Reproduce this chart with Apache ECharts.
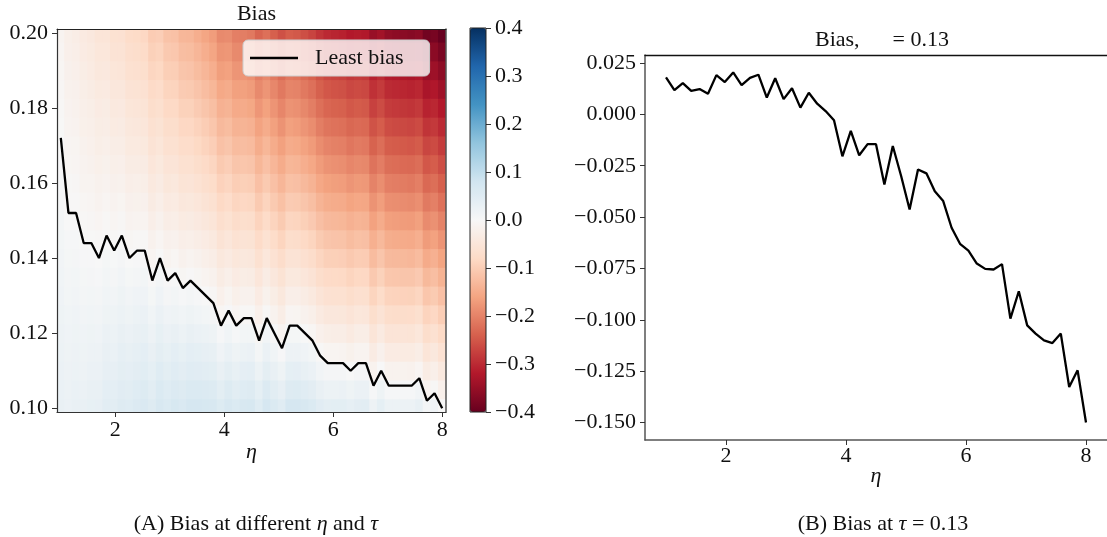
<!DOCTYPE html>
<html><head><meta charset="utf-8">
<script src="https://cdn.jsdelivr.net/npm/echarts@6/dist/echarts.min.js"></script>
<style>html,body{margin:0;padding:0;background:#fff}#c{width:1107px;height:537px}</style>
</head><body><div id="c"></div>
<script>
// ---- data ----
const etaValues = [1.00,1.14,1.28,1.42,1.56,1.70,1.84,1.98,2.12,2.26,2.40,2.54,2.68,2.82,2.96,3.10,3.24,3.38,3.52,3.66,3.80,3.94,4.08,4.22,4.36,4.50,4.64,4.78,4.92,5.06,5.20,5.34,5.48,5.62,5.76,5.90,6.04,6.18,6.32,6.46,6.60,6.74,6.88,7.02,7.16,7.30,7.44,7.58,7.72,7.86,8.00];
const tauRows = [0.100,0.105,0.110,0.115,0.120,0.125,0.130,0.135,0.140,0.145,0.150,0.155,0.160,0.165,0.170,0.175,0.180,0.185,0.190,0.195,0.200];
// bias per eta column, one value per tau row (bottom to top)
const biasColumns = [
[.029,.027,.025,.023,.021,.019,.017,.015,.013,.011,.009,.007,.005,.003,.001,-.001,-.003,-.005,-.007,-.009,-.011],
[.026,.024,.021,.019,.016,.014,.011,.009,.006,.004,.001,-.002,-.004,-.007,-.009,-.012,-.014,-.017,-.019,-.022,-.024],
[.030,.027,.024,.022,.019,.016,.013,.010,.007,.004,.001,-.002,-.005,-.008,-.010,-.013,-.016,-.019,-.022,-.025,-.028],
[.029,.026,.022,.019,.016,.013,.009,.006,.003,-.001,-.004,-.007,-.011,-.014,-.017,-.021,-.024,-.027,-.030,-.034,-.037],
[.033,.029,.026,.022,.018,.014,.011,.007,.003,-.001,-.005,-.008,-.012,-.016,-.020,-.023,-.027,-.031,-.035,-.038,-.042],
[.034,.030,.026,.021,.017,.013,.009,.004,.000,-.004,-.009,-.013,-.017,-.021,-.026,-.030,-.034,-.038,-.043,-.047,-.051],
[.044,.039,.034,.030,.025,.020,.015,.011,.006,.001,-.004,-.009,-.013,-.018,-.023,-.028,-.032,-.037,-.042,-.047,-.051],
[.044,.039,.034,.028,.023,.018,.013,.007,.002,-.003,-.008,-.014,-.019,-.024,-.029,-.035,-.040,-.045,-.050,-.056,-.061],
[.053,.047,.041,.036,.030,.024,.018,.013,.007,.001,-.005,-.010,-.016,-.022,-.028,-.033,-.039,-.045,-.051,-.056,-.062],
[.050,.044,.038,.031,.025,.019,.013,.006,.000,-.006,-.013,-.019,-.025,-.031,-.038,-.044,-.050,-.056,-.063,-.069,-.075],
[.057,.050,.043,.036,.030,.023,.016,.009,.003,-.004,-.011,-.018,-.024,-.031,-.038,-.045,-.051,-.058,-.065,-.072,-.078],
[.061,.054,.046,.039,.032,.025,.017,.010,.003,-.004,-.012,-.019,-.026,-.033,-.041,-.048,-.055,-.062,-.070,-.077,-.084],
[.053,.045,.037,.030,.022,.014,.006,-.002,-.009,-.017,-.025,-.033,-.040,-.048,-.056,-.064,-.071,-.079,-.087,-.095,-.102],
[.066,.058,.050,.041,.033,.025,.017,.008,.000,-.008,-.017,-.025,-.033,-.041,-.050,-.058,-.066,-.074,-.083,-.091,-.099],
[.060,.051,.042,.033,.025,.016,.007,-.002,-.011,-.019,-.028,-.037,-.046,-.054,-.063,-.072,-.081,-.089,-.098,-.107,-.116],
[.067,.057,.048,.039,.030,.020,.011,.002,-.007,-.017,-.026,-.035,-.044,-.054,-.063,-.072,-.081,-.091,-.100,-.109,-.118],
[.062,.053,.043,.033,.023,.014,.004,-.006,-.016,-.025,-.035,-.045,-.055,-.064,-.074,-.084,-.094,-.103,-.113,-.123,-.133],
[.070,.059,.049,.039,.029,.018,.008,-.002,-.012,-.023,-.033,-.043,-.053,-.064,-.074,-.084,-.094,-.105,-.115,-.125,-.135],
[.069,.058,.047,.037,.026,.015,.004,-.006,-.017,-.028,-.039,-.049,-.060,-.071,-.082,-.092,-.103,-.114,-.125,-.135,-.146],
[.068,.056,.045,.034,.023,.011,.000,-.011,-.023,-.034,-.045,-.056,-.068,-.079,-.090,-.101,-.113,-.124,-.135,-.146,-.158],
[.066,.054,.042,.031,.019,.007,-.005,-.017,-.028,-.040,-.052,-.064,-.075,-.087,-.099,-.111,-.122,-.134,-.146,-.158,-.169],
[.054,.042,.029,.017,.005,-.007,-.020,-.032,-.044,-.056,-.069,-.081,-.093,-.105,-.118,-.130,-.142,-.154,-.167,-.179,-.191],
[.066,.054,.041,.028,.015,.003,-.010,-.023,-.036,-.048,-.061,-.074,-.087,-.099,-.112,-.125,-.138,-.150,-.163,-.176,-.189],
[.058,.045,.031,.018,.005,-.008,-.021,-.034,-.047,-.060,-.073,-.087,-.100,-.113,-.126,-.139,-.152,-.165,-.178,-.191,-.204],
[.065,.051,.038,.024,.011,-.003,-.016,-.030,-.043,-.057,-.070,-.084,-.097,-.111,-.124,-.138,-.151,-.165,-.178,-.192,-.205],
[.067,.053,.039,.025,.011,-.003,-.017,-.031,-.045,-.058,-.072,-.086,-.100,-.114,-.128,-.142,-.156,-.170,-.184,-.197,-.211],
[.051,.037,.023,.009,-.006,-.020,-.034,-.048,-.063,-.077,-.091,-.105,-.120,-.134,-.148,-.162,-.177,-.191,-.205,-.219,-.234],
[.070,.056,.041,.026,.012,-.003,-.018,-.032,-.047,-.061,-.076,-.091,-.105,-.120,-.134,-.149,-.164,-.178,-.193,-.207,-.222],
[.060,.045,.030,.015,.000,-.015,-.030,-.045,-.060,-.075,-.090,-.105,-.120,-.135,-.150,-.165,-.180,-.195,-.210,-.225,-.240],
[.049,.034,.018,.003,-.012,-.028,-.043,-.058,-.073,-.089,-.104,-.119,-.135,-.150,-.165,-.181,-.196,-.211,-.226,-.242,-.257],
[.069,.053,.037,.022,.006,-.009,-.025,-.041,-.056,-.072,-.087,-.103,-.119,-.134,-.150,-.165,-.181,-.197,-.212,-.228,-.243],
[.070,.054,.038,.022,.006,-.010,-.025,-.041,-.057,-.073,-.089,-.105,-.121,-.137,-.153,-.169,-.184,-.200,-.216,-.232,-.248],
[.065,.049,.032,.016,.000,-.016,-.032,-.049,-.065,-.081,-.097,-.113,-.130,-.146,-.162,-.178,-.194,-.211,-.227,-.243,-.259],
[.059,.043,.026,.010,-.007,-.023,-.040,-.056,-.073,-.089,-.106,-.122,-.139,-.155,-.172,-.188,-.205,-.221,-.238,-.254,-.271],
[.047,.030,.013,-.003,-.020,-.037,-.054,-.071,-.087,-.104,-.121,-.138,-.155,-.171,-.188,-.205,-.222,-.239,-.255,-.272,-.289],
[.041,.024,.007,-.010,-.027,-.045,-.062,-.079,-.096,-.113,-.130,-.147,-.164,-.181,-.198,-.216,-.233,-.250,-.267,-.284,-.301],
[.042,.024,.007,-.010,-.028,-.045,-.063,-.080,-.097,-.115,-.132,-.150,-.167,-.184,-.202,-.219,-.237,-.254,-.271,-.289,-.306],
[.042,.025,.007,-.011,-.028,-.046,-.063,-.081,-.099,-.116,-.134,-.151,-.169,-.187,-.204,-.222,-.239,-.257,-.275,-.292,-.310],
[.036,.018,.000,-.018,-.036,-.053,-.071,-.089,-.107,-.125,-.142,-.160,-.178,-.196,-.214,-.231,-.249,-.267,-.285,-.303,-.320],
[.043,.025,.007,-.011,-.029,-.047,-.065,-.083,-.101,-.119,-.137,-.155,-.173,-.191,-.209,-.227,-.245,-.263,-.281,-.299,-.317],
[.044,.026,.007,-.011,-.029,-.048,-.066,-.084,-.102,-.121,-.139,-.157,-.175,-.194,-.212,-.230,-.248,-.267,-.285,-.303,-.321],
[.022,.004,-.015,-.033,-.052,-.070,-.089,-.107,-.126,-.144,-.163,-.181,-.200,-.218,-.237,-.255,-.274,-.292,-.311,-.329,-.348],
[.037,.019,.000,-.019,-.037,-.056,-.075,-.094,-.112,-.131,-.150,-.168,-.187,-.206,-.224,-.243,-.262,-.281,-.299,-.318,-.337],
[.023,.004,-.015,-.034,-.053,-.072,-.091,-.110,-.129,-.147,-.166,-.185,-.204,-.223,-.242,-.261,-.280,-.299,-.318,-.336,-.355],
[.023,.004,-.015,-.034,-.054,-.073,-.092,-.111,-.130,-.149,-.168,-.187,-.206,-.225,-.245,-.264,-.283,-.302,-.321,-.340,-.359],
[.023,.004,-.015,-.035,-.054,-.073,-.093,-.112,-.131,-.151,-.170,-.189,-.208,-.228,-.247,-.266,-.286,-.305,-.324,-.344,-.363],
[.023,.004,-.016,-.035,-.055,-.074,-.094,-.113,-.133,-.152,-.172,-.191,-.211,-.230,-.250,-.269,-.289,-.308,-.328,-.347,-.367],
[.031,.012,-.008,-.028,-.047,-.067,-.087,-.106,-.126,-.145,-.165,-.185,-.204,-.224,-.244,-.263,-.283,-.303,-.322,-.342,-.362],
[.008,-.012,-.032,-.052,-.071,-.091,-.111,-.131,-.151,-.170,-.190,-.210,-.230,-.250,-.269,-.289,-.309,-.329,-.349,-.368,-.388],
[.016,-.004,-.024,-.044,-.064,-.084,-.104,-.123,-.143,-.163,-.183,-.203,-.223,-.243,-.263,-.283,-.303,-.322,-.342,-.362,-.382],
[.000,-.020,-.040,-.060,-.080,-.100,-.120,-.140,-.160,-.180,-.200,-.220,-.240,-.260,-.280,-.300,-.320,-.340,-.360,-.380,-.400]
];
const leastBiasTau = [0.172,0.152,0.152,0.144,0.144,0.140,0.146,0.142,0.146,0.140,0.142,0.142,0.134,0.140,0.134,0.136,0.132,0.134,0.132,0.130,0.128,0.122,0.126,0.122,0.124,0.124,0.118,0.124,0.120,0.116,0.122,0.122,0.120,0.118,0.114,0.112,0.112,0.112,0.110,0.112,0.112,0.106,0.110,0.106,0.106,0.106,0.106,0.108,0.102,0.104,0.100];
const biasAtTau013 = [0.0180,0.0118,0.0152,0.0114,0.0123,0.0100,0.0191,0.0157,0.0204,0.0142,0.0178,0.0193,0.0082,0.0176,0.0074,0.0127,0.0033,0.0105,0.0052,0.0016,-0.0029,-0.0204,-0.0080,-0.0199,-0.0145,-0.0145,-0.0341,-0.0154,-0.0301,-0.0463,-0.0268,-0.0287,-0.0374,-0.0422,-0.0552,-0.0630,-0.0663,-0.0726,-0.0752,-0.0755,-0.0729,-0.0994,-0.0861,-0.1027,-0.1067,-0.1100,-0.1113,-0.1067,-0.1327,-0.1246,-0.1500];
const etaTicks = [2,4,6,8];
const tauTicks = [0.10,0.12,0.14,0.16,0.18,0.20];
const rightBiasTicks = [0.025,0.000,-0.025,-0.050,-0.075,-0.100,-0.125,-0.150];
const RdBu = ['#67001f','#b2182b','#d6604d','#f4a582','#fddbc7','#f7f7f7','#d1e5f0','#92c5de','#4393c3','#2166ac','#053061'];

// ---- build ----
const FONT = '"Liberation Serif","Times New Roman",serif';
const FS = 22;
const fmt = (v, d) => v.toFixed(d).replace('-', '\u2212');
const halfEta = (etaValues[1] - etaValues[0]) / 2;
const halfTau = (tauRows[1] - tauRows[0]) / 2;
const heatData = [];
etaValues.forEach((e, j) => tauRows.forEach((t, k) => heatData.push([e, t, biasColumns[j][k]])));

function renderCell(params, api) {
  const e = api.value(0), t = api.value(1);
  const p0 = api.coord([e - halfEta, t + halfTau]);
  const p1 = api.coord([e + halfEta, t - halfTau]);
  const cs = params.coordSys;
  const r = echarts.graphic.clipRectByRect(
    { x: p0[0] - 0.4, y: p0[1] - 0.4, width: p1[0] - p0[0] + 0.8, height: p1[1] - p0[1] + 0.8 },
    { x: cs.x, y: cs.y, width: cs.width, height: cs.height });
  if (!r) return;
  return { type: 'rect', shape: r, style: { fill: api.visual('color') } };
}

const lbl = { fontFamily: FONT, fontSize: FS, color: '#111' };
const spine = (c, w) => ({ show: true, onZero: false, lineStyle: { color: c, width: w } });
const noAx = { axisTick: { show: false }, axisLabel: { show: false }, splitLine: { show: false } };
const capStyle = { fontFamily: FONT, fontSize: 22, fontWeight: 'normal', color: '#111', rich: { i: { fontFamily: FONT, fontSize: 22, fontStyle: 'italic', color: '#111' } } };

const option = {
  animation: false,
  backgroundColor: '#fff',
  title: [
    { text: 'Bias', left: 251.5, top: -2, textAlign: 'center', textStyle: { fontFamily: FONT, fontSize: FS, fontWeight: 'normal', color: '#111' } },
    { text: 'Bias, \u2003 = 0.13', left: 877, top: 24, textAlign: 'center', textStyle: { fontFamily: FONT, fontSize: FS, fontWeight: 'normal', color: '#111' } },
    { text: '(A) Bias at different {i|η} and {i|τ}', left: 251, top: 508, textAlign: 'center', textStyle: capStyle },
    { text: '(B) Bias at {i|τ} = 0.13', left: 878, top: 508, textAlign: 'center', textStyle: capStyle }
  ],
  legend: {
    data: [{ name: 'Least bias', icon: 'rect' }], left: 243, top: 40, padding: [7, 26, 7, 7], itemWidth: 48, itemHeight: 2.5,
    backgroundColor: 'rgba(255,255,255,0.8)', borderColor: '#cccccc', borderWidth: 1, borderRadius: 5,
    selectedMode: false, textStyle: { fontFamily: FONT, fontSize: FS, color: '#111', padding: [0, 0, 0, 12], lineHeight: 22 }
  },
  visualMap: {
    type: 'continuous', min: -0.4, max: 0.4, seriesIndex: 0, dimension: 2, calculable: false,
    orient: 'vertical', left: 470, top: 28, itemWidth: 16, itemHeight: 384, padding: 0, text: null,
    inRange: { color: RdBu }, hoverLink: false
  },
  grid: [
    { left: 57, top: 29, width: 389, height: 383 },
    { left: 645, top: 55, width: 465, height: 385 },
    { left: 470, top: 28, width: 16, height: 384 }
  ],
  xAxis: [
    { gridIndex: 0, type: 'value', min: 0.93, max: 8.07, position: 'bottom', z: 10,
      axisLine: spine('#333', 1.2), splitLine: { show: false },
      axisTick: { length: 5, customValues: etaTicks, lineStyle: { color: '#333' } },
      axisLabel: Object.assign({ customValues: etaTicks, margin: 7 }, lbl),
      name: 'η', nameLocation: 'middle', nameGap: 29, nameMoveOverlap: false, nameTextStyle: { fontFamily: FONT, fontSize: FS, fontStyle: 'italic', color: '#111' } },
    Object.assign({ gridIndex: 0, type: 'value', min: 0.93, max: 8.07, position: 'top', z: 10, axisLine: spine('#222', 1) }, noAx),
    { gridIndex: 1, type: 'value', min: 0.65, max: 8.35, position: 'bottom', z: 10,
      axisLine: spine('#555', 1.5), splitLine: { show: false },
      axisTick: { length: 5, customValues: etaTicks, lineStyle: { color: '#333' } },
      axisLabel: Object.assign({ customValues: etaTicks, margin: 5 }, lbl),
      name: 'η', nameLocation: 'middle', nameGap: 25, nameMoveOverlap: false, nameTextStyle: { fontFamily: FONT, fontSize: FS, fontStyle: 'italic', color: '#111' } },
    Object.assign({ gridIndex: 1, type: 'value', min: 0.65, max: 8.35, position: 'top', z: 10, axisLine: spine('#111', 1.3) }, noAx),
    Object.assign({ gridIndex: 2, type: 'value', min: 0, max: 1, show: false }, noAx)
  ],
  yAxis: [
    { gridIndex: 0, type: 'value', min: 0.099, max: 0.201, position: 'left', z: 10,
      axisLine: spine('#333', 1.2), splitLine: { show: false },
      axisTick: { length: 5, customValues: tauTicks, lineStyle: { color: '#333' } },
      axisLabel: Object.assign({ customValues: tauTicks, margin: 9, formatter: v => fmt(v, 2) }, lbl) },
    Object.assign({ gridIndex: 0, type: 'value', min: 0.099, max: 0.201, position: 'right', z: 10, axisLine: spine('#555', 1.5) }, noAx),
    { gridIndex: 1, type: 'value', min: -0.1585, max: 0.0289, position: 'left', z: 10,
      axisLine: spine('#555', 1.5), splitLine: { show: false },
      axisTick: { length: 5, customValues: rightBiasTicks, lineStyle: { color: '#333' } },
      axisLabel: Object.assign({ customValues: rightBiasTicks, margin: 9, formatter: v => fmt(v, 3) }, lbl) },
    { gridIndex: 2, type: 'value', min: -0.4, max: 0.4, interval: 0.1, position: 'right', z: 10,
      axisLine: { show: false, onZero: false }, splitLine: { show: false },
      axisTick: { show: true, length: 5, lineStyle: { color: '#333' } },
      axisLabel: Object.assign({ margin: 9, formatter: v => fmt(v, 1) }, lbl) }
  ],
  graphic: [
    { type: 'rect', shape: { x: 470, y: 28, width: 16, height: 384 }, style: { fill: 'none', stroke: '#222', lineWidth: 1 }, z: 100 }
  ],
  series: [
    { type: 'custom', name: 'bias', xAxisIndex: 0, yAxisIndex: 0, renderItem: renderCell, data: heatData, z: 1, silent: true },
    { type: 'line', name: 'Least bias', xAxisIndex: 0, yAxisIndex: 0, symbol: 'none', z: 5,
      data: etaValues.map((e, i) => [e, leastBiasTau[i]]), lineStyle: { color: '#000', width: 2.3 }, itemStyle: { color: '#000' } },
    { type: 'line', name: 'Bias at tau', xAxisIndex: 2, yAxisIndex: 2, symbol: 'none', z: 5,
      data: etaValues.map((e, i) => [e, biasAtTau013[i]]), lineStyle: { color: '#000', width: 2.3 }, itemStyle: { color: '#000' } }
  ]
};
const chart = echarts.init(document.getElementById('c'), null, { renderer: 'canvas' });
chart.setOption(option);
</script></body></html>
